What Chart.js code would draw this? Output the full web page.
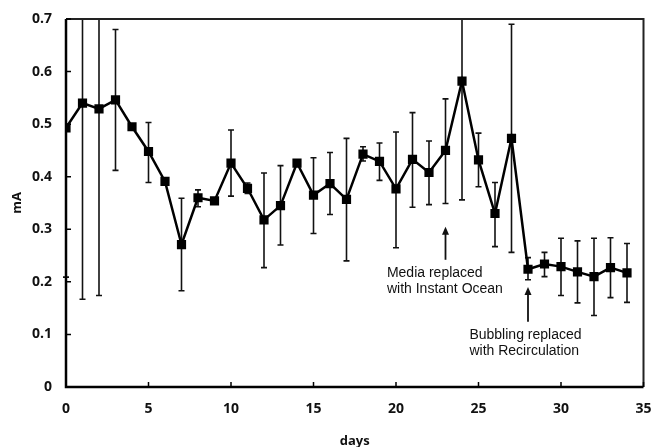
<!DOCTYPE html>
<html>
<head>
<meta charset="utf-8">
<script src="https://cdn.jsdelivr.net/npm/chart.js@4"></script>
<style>
  html, body { margin: 0; padding: 0; background: #fff; }
  #box { width: 652px; height: 447px; }
</style>
</head>
<body>
<div id="box"><canvas id="myChart"></canvas></div>
<script>
const days = [0, 1, 2, 3, 4, 5, 6, 7, 8, 9, 10, 11, 12, 13, 14, 15, 16, 17,
    18, 19, 20, 21, 22, 23, 24, 25, 26, 27, 28, 29, 30, 31, 32, 33, 34];
const current = [0.493, 0.540, 0.529, 0.546, 0.495, 0.448, 0.391, 0.271, 0.360, 0.354,
    0.426, 0.378, 0.318, 0.345, 0.426, 0.365, 0.387, 0.357, 0.443, 0.429,
    0.377, 0.433, 0.408, 0.450, 0.582, 0.432, 0.330, 0.473, 0.224, 0.234,
    0.229, 0.219, 0.210, 0.227, 0.217];
const errHigh = [0.780, 0.910, 0.880, 0.680, 0.495, 0.503, 0.391, 0.359, 0.375, 0.354,
    0.489, 0.388, 0.407, 0.421, 0.426, 0.436, 0.446, 0.473, 0.457, 0.464,
    0.485, 0.522, 0.468, 0.548, 0.810, 0.483, 0.389, 0.690, 0.246, 0.256,
    0.283, 0.278, 0.283, 0.284, 0.273];
const errLow = [0.209, 0.167, 0.174, 0.412, 0.495, 0.389, 0.391, 0.183, 0.343, 0.354,
    0.363, 0.368, 0.227, 0.270, 0.426, 0.292, 0.328, 0.240, 0.430, 0.393,
    0.265, 0.342, 0.347, 0.349, 0.356, 0.381, 0.267, 0.256, 0.204, 0.210,
    0.174, 0.160, 0.136, 0.170, 0.161];

// annotation arrows: day, tip value, tail value, text lines
const notes = [
    { day: 23, tip: 0.305, tail: 0.242, lines: ['Media replaced', 'with Instant Ocean'], textDay: 19.45, textY: 0.217 },
    { day: 28, tip: 0.190, tail: 0.124, lines: ['Bubbling replaced', 'with Recirculation'], textDay: 24.45, textY: 0.099 }
];

const axisFont = { family: 'Open Sans', size: 14, weight: 'bold' };
const titleFont = { family: 'Open Sans', size: 13, weight: 'bold' };

const errorBars = {
    id: 'errorBars',
    beforeDatasetsDraw(chart) {
        const ctx = chart.ctx, xs = chart.scales.x, ys = chart.scales.y, area = chart.chartArea;
        ctx.save();
        ctx.beginPath();
        ctx.rect(area.left - 4, area.top, area.right - area.left + 8, area.bottom - area.top);
        ctx.clip();
        ctx.strokeStyle = '#111';
        ctx.lineWidth = 1.6;
        for (let i = 0; i < days.length; i++) {
            const x = xs.getPixelForValue(days[i]);
            const y1 = ys.getPixelForValue(errHigh[i]);
            const y2 = ys.getPixelForValue(errLow[i]);
            if (Math.abs(y2 - y1) < 2) continue;
            ctx.beginPath();
            ctx.moveTo(x, y1); ctx.lineTo(x, y2);
            ctx.moveTo(x - 3, y1); ctx.lineTo(x + 3, y1);
            ctx.moveTo(x - 3, y2); ctx.lineTo(x + 3, y2);
            ctx.stroke();
        }
        ctx.restore();
    }
};

const frame = {
    id: 'frame',
    afterDraw(chart) {
        const ctx = chart.ctx, xs = chart.scales.x, ys = chart.scales.y, a = chart.chartArea;
        ctx.save();
        // top/right border
        ctx.strokeStyle = '#222';
        ctx.lineWidth = 2;
        ctx.beginPath();
        ctx.moveTo(a.left, a.top); ctx.lineTo(a.right, a.top); ctx.lineTo(a.right, a.bottom);
        ctx.stroke();
        // heavy axes
        ctx.strokeStyle = '#000';
        ctx.lineWidth = 2.5;
        ctx.beginPath();
        ctx.moveTo(a.left, a.top); ctx.lineTo(a.left, a.bottom); ctx.lineTo(a.right, a.bottom);
        ctx.stroke();
        // inward ticks
        ctx.lineWidth = 1.5;
        ctx.beginPath();
        xs.ticks.forEach(t => {
            const x = xs.getPixelForValue(t.value);
            ctx.moveTo(x, a.bottom); ctx.lineTo(x, a.bottom - 5);
        });
        ys.ticks.forEach(t => {
            const y = ys.getPixelForValue(t.value);
            ctx.moveTo(a.left, y); ctx.lineTo(a.left + 5, y);
        });
        ctx.stroke();
        // annotations
        ctx.fillStyle = '#111';
        ctx.strokeStyle = '#111';
        ctx.lineWidth = 1.8;
        ctx.font = '14px "Liberation Sans", Arial, sans-serif';
        ctx.textBaseline = 'middle';
        ctx.textAlign = 'left';
        notes.forEach(n => {
            const x = xs.getPixelForValue(n.day);
            const yTip = ys.getPixelForValue(n.tip);
            const yTail = ys.getPixelForValue(n.tail);
            ctx.beginPath();
            ctx.moveTo(x, yTail); ctx.lineTo(x, yTip + 3);
            ctx.stroke();
            ctx.beginPath();
            ctx.moveTo(x, yTip); ctx.lineTo(x - 3.5, yTip + 8); ctx.lineTo(x + 3.5, yTip + 8);
            ctx.closePath();
            ctx.fill();
            const tx = xs.getPixelForValue(n.textDay);
            const ty = ys.getPixelForValue(n.textY);
            n.lines.forEach((s, k) => ctx.fillText(s, tx, ty + k * 16.5));
        });
        ctx.restore();
    }
};

new Chart(document.getElementById('myChart'), {
    type: 'line',
    data: {
        datasets: [{
            data: days.map((d, i) => ({ x: d, y: current[i] })),
            borderColor: '#000',
            backgroundColor: '#000',
            borderWidth: 2.5,
            pointStyle: 'rect',
            pointRadius: 6.5,
            pointBorderWidth: 0,
            tension: 0
        }]
    },
    options: {
        responsive: true,
        maintainAspectRatio: false,
        animation: false,
        layout: { padding: { left: 0, right: 8.5, top: 19, bottom: 0 } },
        plugins: { legend: { display: false }, tooltip: { enabled: false } },
        scales: {
            x: {
                type: 'linear',
                min: 0, max: 35,
                grid: { display: false, drawTicks: false },
                border: { display: false },
                ticks: { stepSize: 5, color: '#111', font: axisFont, padding: 14, maxRotation: 0 },
                title: { display: true, text: 'days', color: '#111', font: titleFont, padding: { top: 6, bottom: -2 } },
                afterFit(s) { s.height = 60; s.paddingLeft = 0; s.paddingRight = 0; }
            },
            y: {
                min: 0, max: 0.7,
                grid: { display: false, drawTicks: false },
                border: { display: false },
                ticks: { stepSize: 0.1, color: '#111', font: axisFont, padding: 14,
                    callback: v => v === 0 ? '0' : v.toFixed(1) },
                title: { display: true, text: 'mA', color: '#111', font: titleFont, padding: { top: 9, bottom: 0 } },
                afterFit(s) { s.width = 66; s.paddingTop = 0; s.paddingBottom = 0; }
            }
        }
    },
    plugins: [errorBars, frame]
});
</script>
</body>
</html>
